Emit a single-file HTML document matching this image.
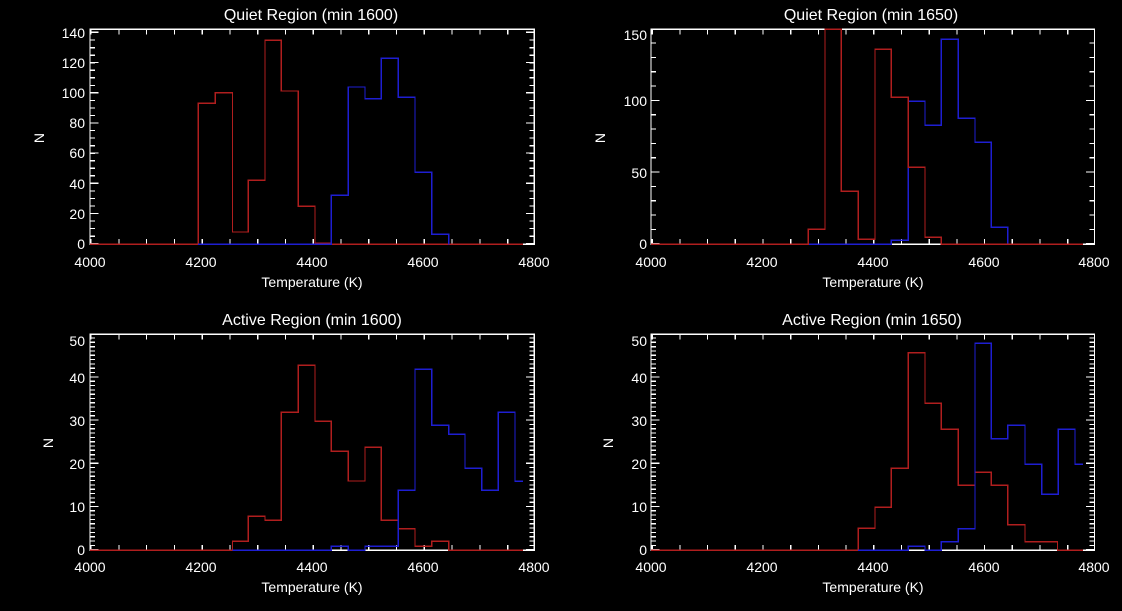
<!DOCTYPE html>
<html><head><meta charset="utf-8">
<style>
html,body{margin:0;padding:0;background:#000;}
svg{display:block;}
text{font-family:"Liberation Sans",sans-serif;fill:#fff;}
.t{font-size:16px;text-anchor:middle;}
.l{font-size:14px;text-anchor:middle;}
.y{font-size:14px;text-anchor:end;}
.r{fill:none;stroke:#b01e1e;stroke-width:1.4;vector-effect:non-scaling-stroke;}
.b{fill:none;stroke:#1e1ed2;stroke-width:1.4;vector-effect:non-scaling-stroke;}
.ax{fill:none;stroke:#fff;stroke-width:1.3;}
</style></head><body>
<svg width="1122" height="611" viewBox="0 0 1122 611" xmlns="http://www.w3.org/2000/svg" shape-rendering="crispEdges">
<rect width="1122" height="611" fill="#000"/>

<!-- ===== TL ===== -->
<g>
<text class="t" x="311" y="20">Quiet Region (min 1600)</text>
<rect class="ax" x="90" y="29.3" width="444.3" height="215"/>
<line x1="90.5" y1="241.5" x2="534.3" y2="241.5" stroke="#fff" stroke-width="5" stroke-dasharray="1.2 26.57"/>
<line x1="90.5" y1="31.8" x2="534.3" y2="31.8" stroke="#fff" stroke-width="5" stroke-dasharray="1.2 26.57"/>
<line x1="94" y1="244.3" x2="94" y2="29.3" stroke="#fff" stroke-width="9" stroke-dasharray="1.2 29.0"/>
<line x1="92.5" y1="244.3" x2="92.5" y2="29.3" stroke="#fff" stroke-width="5" stroke-dasharray="1.2 6.34"/>
<line x1="530.3" y1="244.3" x2="530.3" y2="29.3" stroke="#fff" stroke-width="9" stroke-dasharray="1.2 29.0"/>
<line x1="531.8" y1="244.3" x2="531.8" y2="29.3" stroke="#fff" stroke-width="5" stroke-dasharray="1.2 6.34"/>
<text class="y" x="85" y="249">0</text>
<text class="y" x="85" y="219">20</text>
<text class="y" x="85" y="189">40</text>
<text class="y" x="85" y="158">60</text>
<text class="y" x="85" y="128">80</text>
<text class="y" x="85" y="98">100</text>
<text class="y" x="85" y="68">120</text>
<text class="y" x="85" y="38">140</text>
<text class="l" x="90" y="267">4000</text>
<text class="l" x="201" y="267">4200</text>
<text class="l" x="312" y="267">4400</text>
<text class="l" x="423" y="267">4600</text>
<text class="l" x="534" y="267">4800</text>
<text class="l" x="312" y="287">Temperature (K)</text>
<text class="l" transform="translate(44,138) rotate(-90)">N</text>
<g transform="translate(0,0) scale(0.35714,0.33333)">
<path class="r" d="M252,733 H555 V310 H603 V278 H651 V696 H695 V541 H742 V121 H788 V273 H835 V619 H882 V730 H928 V733 H1465"/>
<path class="b" d="M555,733 H928 V586 H975 V261 H1022 V296 H1068 V175 H1115 V292 H1162 V517 H1209 V703 H1256 V733"/>
</g>
</g>

<!-- ===== TR ===== -->
<g>
<text class="t" x="871" y="20">Quiet Region (min 1650)</text>
<rect class="ax" x="651.1" y="29.3" width="443.4" height="215"/>
<line x1="651.6" y1="241.5" x2="1094.5" y2="241.5" stroke="#fff" stroke-width="5" stroke-dasharray="1.2 26.5"/>
<line x1="651.6" y1="31.8" x2="1094.5" y2="31.8" stroke="#fff" stroke-width="5" stroke-dasharray="1.2 26.5"/>
<line x1="655.1" y1="244.3" x2="655.1" y2="29.3" stroke="#fff" stroke-width="9" stroke-dasharray="1.2 70.47"/>
<line x1="653.6" y1="244.3" x2="653.6" y2="29.3" stroke="#fff" stroke-width="5" stroke-dasharray="1.2 13.13"/>
<line x1="1090.5" y1="244.3" x2="1090.5" y2="29.3" stroke="#fff" stroke-width="9" stroke-dasharray="1.2 70.47"/>
<line x1="1092" y1="244.3" x2="1092" y2="29.3" stroke="#fff" stroke-width="5" stroke-dasharray="1.2 13.13"/>
<text class="y" x="647" y="249">0</text>
<text class="y" x="647" y="178">50</text>
<text class="y" x="647" y="106">100</text>
<text class="y" x="647" y="40">150</text>
<text class="l" x="651" y="267">4000</text>
<text class="l" x="762" y="267">4200</text>
<text class="l" x="873" y="267">4400</text>
<text class="l" x="984" y="267">4600</text>
<text class="l" x="1094" y="267">4800</text>
<text class="l" x="873" y="287">Temperature (K)</text>
<text class="l" transform="translate(605,138) rotate(-90)">N</text>
<g transform="translate(560,0) scale(0.35714,0.33333)">
<path class="b" d="M695,733 H928 V721 H975 V304 H1022 V376 H1068 V118 H1115 V355 H1162 V427 H1207 V682 H1254 V733"/>
<path class="r" d="M255,733 H695 V688 H742 V88 H788 V574 H835 V718 H882 V148 H928 V292 H975 V502 H1022 V712 H1068 V733 H1465"/>
</g>
</g>

<!-- ===== BL ===== -->
<g>
<text class="t" x="312" y="325">Active Region (min 1600)</text>
<rect class="ax" x="90" y="334.3" width="444.3" height="216"/>
<line x1="90.5" y1="547.5" x2="534.3" y2="547.5" stroke="#fff" stroke-width="5" stroke-dasharray="1.2 26.57"/>
<line x1="90.5" y1="336.8" x2="534.3" y2="336.8" stroke="#fff" stroke-width="5" stroke-dasharray="1.2 26.57"/>
<line x1="94" y1="550.3" x2="94" y2="334.3" stroke="#fff" stroke-width="9" stroke-dasharray="1.2 42.0"/>
<line x1="92.5" y1="550.3" x2="92.5" y2="334.3" stroke="#fff" stroke-width="5" stroke-dasharray="1.2 3.12"/>
<line x1="530.3" y1="550.3" x2="530.3" y2="334.3" stroke="#fff" stroke-width="9" stroke-dasharray="1.2 42.0"/>
<line x1="531.8" y1="550.3" x2="531.8" y2="334.3" stroke="#fff" stroke-width="5" stroke-dasharray="1.2 3.12"/>
<text class="y" x="85" y="555">0</text>
<text class="y" x="85" y="512">10</text>
<text class="y" x="85" y="469">20</text>
<text class="y" x="85" y="426">30</text>
<text class="y" x="85" y="383">40</text>
<text class="y" x="85" y="346">50</text>
<text class="l" x="90" y="572">4000</text>
<text class="l" x="201" y="572">4200</text>
<text class="l" x="312" y="572">4400</text>
<text class="l" x="423" y="572">4600</text>
<text class="l" x="534" y="572">4800</text>
<text class="l" x="312" y="592">Temperature (K)</text>
<text class="l" transform="translate(53,443) rotate(-90)">N</text>
<g transform="translate(0,305) scale(0.35714,0.33333)">
<path class="r" d="M252,736 H651 V709 H695 V634 H742 V646 H788 V322 H835 V181 H882 V349 H928 V439 H975 V528 H1022 V427 H1068 V646 H1115 V671 H1162 V724 H1209 V709 H1256 V736 H1465"/>
<path class="b" d="M651,736 H928 V724 H975 V736 H1022 V724 H1115 V556 H1162 V193 H1209 V361 H1256 V388 H1302 V490 H1349 V556 H1395 V322 H1442 V529 H1465"/>
</g>
</g>

<!-- ===== BR ===== -->
<g>
<text class="t" x="872" y="325">Active Region (min 1650)</text>
<rect class="ax" x="651.1" y="334.3" width="443.4" height="216"/>
<line x1="651.6" y1="547.5" x2="1094.5" y2="547.5" stroke="#fff" stroke-width="5" stroke-dasharray="1.2 26.5"/>
<line x1="651.6" y1="336.8" x2="1094.5" y2="336.8" stroke="#fff" stroke-width="5" stroke-dasharray="1.2 26.5"/>
<line x1="655.1" y1="550.3" x2="655.1" y2="334.3" stroke="#fff" stroke-width="9" stroke-dasharray="1.2 42.0"/>
<line x1="653.6" y1="550.3" x2="653.6" y2="334.3" stroke="#fff" stroke-width="5" stroke-dasharray="1.2 3.12"/>
<line x1="1090.5" y1="550.3" x2="1090.5" y2="334.3" stroke="#fff" stroke-width="9" stroke-dasharray="1.2 42.0"/>
<line x1="1092" y1="550.3" x2="1092" y2="334.3" stroke="#fff" stroke-width="5" stroke-dasharray="1.2 3.12"/>
<text class="y" x="647" y="555">0</text>
<text class="y" x="647" y="512">10</text>
<text class="y" x="647" y="469">20</text>
<text class="y" x="647" y="426">30</text>
<text class="y" x="647" y="383">40</text>
<text class="y" x="647" y="346">50</text>
<text class="l" x="651" y="572">4000</text>
<text class="l" x="762" y="572">4200</text>
<text class="l" x="873" y="572">4400</text>
<text class="l" x="984" y="572">4600</text>
<text class="l" x="1094" y="572">4800</text>
<text class="l" x="873" y="592">Temperature (K)</text>
<text class="l" transform="translate(613,443) rotate(-90)">N</text>
<g transform="translate(560,305) scale(0.35714,0.33333)">
<path class="r" d="M255,736 H835 V670 H882 V607 H928 V490 H975 V143 H1022 V295 H1068 V373 H1115 V541 H1162 V502 H1207 V541 H1254 V659 H1302 V710 H1393 V736 H1465"/>
<path class="b" d="M835,736 H975 V724 H1022 V736 H1068 V710 H1115 V671 H1162 V115 H1207 V401 H1254 V361 H1302 V478 H1349 V568 H1395 V373 H1442 V478 H1465"/>
</g>
</g>
</svg>
</body></html>
